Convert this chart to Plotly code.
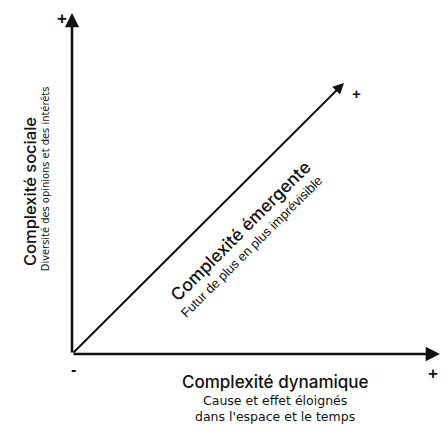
import plotly.graph_objects as go

# Conceptual chart data (unit axes)
axis_names = ["Complexité dynamique", "Complexité sociale", "Complexité émergente"]
axis_subtitles = [
    ["Cause et effet éloignés", "dans l'espace et le temps"],
    ["Diversité des opinions et des intérêts"],
    ["Futur de plus en plus imprévisible"],
]
origin = [0.0, 0.0]
x_axis_end = [1.0, 0.0]
y_axis_end = [0.0, 1.0]
diag_end = [0.739, 0.795]
low_mark = "-"
high_mark = "+"

fig = go.Figure()
# invisible trace to establish axes
fig.add_trace(go.Scatter(x=[origin[0], x_axis_end[0]], y=[origin[1], y_axis_end[1]],
                         mode="markers", marker=dict(opacity=0), hoverinfo="skip", showlegend=False))

ann = []
def arrow(end, width):
    ann.append(dict(x=end[0], y=end[1], ax=origin[0], ay=origin[1], xref="x", yref="y",
                    axref="x", ayref="y", showarrow=True, arrowhead=2, arrowsize=1.1,
                    arrowwidth=width, arrowcolor="#111", text="", standoff=0))
arrow(x_axis_end, 2.6)
arrow(y_axis_end, 2.6)
arrow(diag_end, 2.0)

def txt(x, y, s, size, family="Arial", angle=0, weight="normal", color="#111"):
    ann.append(dict(x=x, y=y, xref="paper", yref="paper", text=s, showarrow=False, textangle=angle,
                    font=dict(size=size, family=family, color=color, weight=weight),
                    xanchor="center", yanchor="middle"))

TITLE_FONT = "Inter, Arial"
# x axis labels
txt(0.552, -0.082, axis_names[0], 17, TITLE_FONT, weight=500)
txt(0.552, -0.135, axis_subtitles[0][0], 12.5, "DejaVu Sans")
txt(0.552, -0.182, axis_subtitles[0][1], 12.5, "DejaVu Sans")
# y axis labels
txt(-0.114, 0.475, axis_names[1], 16.5, TITLE_FONT, angle=-90, weight=500)
txt(-0.073, 0.513, axis_subtitles[1][0], 11, "DejaVu Sans Condensed", angle=-90)
# diagonal labels
txt(0.459, 0.361, axis_names[2], 17.5, TITLE_FONT, angle=-45, weight=500)
txt(0.489, 0.314, axis_subtitles[2][0], 13, angle=-45)
# marks
txt(0.003, -0.044, low_mark, 16, weight="bold")
txt(-0.027, 0.985, high_mark, 17, weight="bold")
txt(0.981, -0.056, high_mark, 17, weight="bold")
txt(0.774, 0.765, high_mark, 15, weight="bold")

fig.update_layout(
    width=444, height=427,
    margin=dict(l=72, r=4, t=13, b=73),
    paper_bgcolor="white", plot_bgcolor="white",
    xaxis=dict(range=[0, 1], visible=False, fixedrange=True),
    yaxis=dict(range=[0, 1], visible=False, fixedrange=True),
    annotations=ann,
    showlegend=False,
)
fig.write_html("out.html", config={"displayModeBar": False},
               post_script="document.body.style.margin='0px';document.body.style.overflow='hidden';")
